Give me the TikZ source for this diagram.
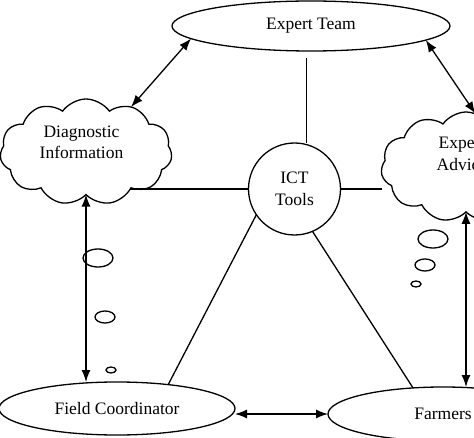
\documentclass[tikz,border=0pt]{standalone}
\usepackage{fontspec}
\setmainfont{Liberation Serif}
\usetikzlibrary{shapes.geometric,shapes.symbols,arrows.meta}
\begin{document}
\begin{tikzpicture}[x=1pt,y=-1pt,>={Latex[length=12pt,width=9pt]},line width=1.3pt,
	every node/.style={font=\fontsize{17.5}{21.5}\selectfont},
	actor/.style={draw,ellipse,inner sep=0pt,outer sep=0pt},
	thought/.style={draw,cloud,cloud puffs=11,cloud puff arc=110,cloud ignores aspect,align=center,inner sep=0pt,outer sep=0pt}]
		\useasboundingbox (0,0) rectangle (474,438);

		\node (team)    [actor,minimum width=278pt,minimum height=50pt] at (311,26) {Expert Team};
		\node (ict)     [draw,circle,minimum size=92pt,inner sep=0pt,outer sep=0pt,align=center] at (294.5,189) {ICT\\Tools};
		\node (diag)    [thought,minimum width=172pt,minimum height=106pt,text depth=20pt] at (86,152) {Diagnostic\hspace*{9pt}\\Information\hspace*{9pt}};
		\node (advice)  [thought,minimum width=170pt,minimum height=110pt,text depth=26pt] at (466,167) {Expert\hspace*{8pt}\\Advice\hspace*{8pt}};
		\node (field)   [actor,minimum width=236pt,minimum height=53pt] at (117,408.5) {Field Coordinator};
		\node (farmers) [actor,minimum width=230pt,minimum height=54pt] at (443,414) {Farmers};

		% thought bubbles
		\draw (98,258) ellipse [x radius=15,y radius=9];
		\draw (105,317) ellipse [x radius=10,y radius=6];
		\draw (111,370) ellipse [x radius=5,y radius=3];
		\draw (433,239) ellipse [x radius=15,y radius=9];
		\draw (425,265) ellipse [x radius=10,y radius=6];
		\draw (416,284) ellipse [x radius=5,y radius=3];

		\draw ([yshift=-7pt]team.259) -- (ict.north -| team.259);
		\draw (ict.west) -- (ict.west -| diag.-40);
		\draw (ict.east) -- (ict.east -| advice.west);
		\draw (ict.214) -- (field.25);
		\draw (ict.-67) -- (farmers.139);
		\draw [<->] (team.186) -- (diag.45);
		\draw [<->] (team.-7) -- (advice.80);
		\draw [<->] (diag.south) -- (diag.south |- field.north);
		\draw [<->] (advice.south) -- (advice.south |- farmers.north);
		\draw [<->] (farmers.west) -- (farmers.west -| field.east);
	\end{tikzpicture}
\end{document}
